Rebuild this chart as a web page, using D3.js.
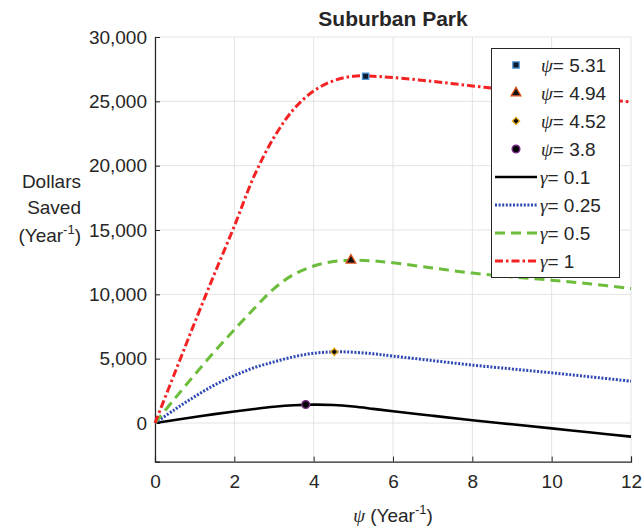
<!DOCTYPE html>
<html>
<head>
<meta charset="utf-8">
<script src="https://cdn.jsdelivr.net/npm/d3@7"></script>
<style>
  body { margin: 0; background: #fff; }
  text { font-family: "Liberation Sans", Arial, sans-serif; fill: #262626; }
  .greek { font-family: "Liberation Serif", "Times New Roman", serif; font-style: italic; }
</style>
</head>
<body>
<svg id="chart" width="644" height="527"></svg>
<script>
// psi sample points (Year^-1)
const psi = [0, 0.5, 1, 1.5, 2, 2.5, 3, 3.5, 4, 4.5, 5, 5.5, 6, 7, 8, 9, 10, 11, 12];

// dollars saved for each gamma
const gamma01 = [0, 230, 460, 690, 900, 1090, 1260, 1380, 1430, 1400, 1280, 1100, 910, 560, 220, -100, -420, -740, -1060];
const gamma025 = [0, 1050, 2050, 2950, 3680, 4300, 4750, 5150, 5420, 5530, 5500, 5380, 5200, 4850, 4500, 4200, 3900, 3580, 3250];
const gamma05 = [0, 1900, 3750, 5550, 7250, 8900, 10450, 11550, 12200, 12550, 12650, 12600, 12450, 12050, 11650, 11350, 11100, 10800, 10450];
const gamma1 = [0, 3900, 7800, 11600, 15300, 19200, 22200, 24400, 25800, 26600, 26950, 26950, 26850, 26550, 26200, 25850, 25550, 25250, 24950];

const gammaLabels = ["0.1", "0.25", "0.5", "1"];

// optimum markers
const markerPsi = [5.31, 4.94, 4.52, 3.8];
const markerVal = [26950, 12650, 5530, 1440];
const markerLabels = ["5.31", "4.94", "4.52", "3.8"];

const xTicks = [0, 2, 4, 6, 8, 10, 12];
const yTicks = [0, 5000, 10000, 15000, 20000, 25000, 30000];

const svg = d3.select("#chart");

const x = d3.scaleLinear().domain([0, 12]).range([155, 631]);
const y = d3.scaleLinear().domain([-3000, 30000]).range([461.6, 37]);

// line styles
let lineStyles = [
  { color: "#000000", width: 2.6, dash: null },
  { color: "#2d47b3", width: 3, dash: "2,1.6" },
  { color: "#6cbd3c", width: 3, dash: "10,6" },
  { color: "#f42222", width: 3, dash: "8,3,2.5,3" },
];
let markerStyles = [
  { shape: d3.symbolSquare, size: 40, fill: "#0b1a2e", stroke: "#4a95d6" },
  { shape: d3.symbolTriangle, size: 42, fill: "#111111", stroke: "#d9531e" },
  { shape: d3.symbolDiamond2, size: 34, fill: "#111111", stroke: "#edb120" },
  { shape: d3.symbolCircle, size: 48, fill: "#000000", stroke: "#7e2f8e" },
];

// grid
svg.append("g")
  .selectAll("line")
  .data(xTicks)
  .enter()
  .append("line")
  .attr("x1", (d) => x(d))
  .attr("x2", (d) => x(d))
  .attr("y1", y(-3000))
  .attr("y2", y(30000))
  .attr("stroke", "#e3e3e3")
  .attr("stroke-width", 1);

svg.append("g")
  .selectAll("line")
  .data(yTicks)
  .enter()
  .append("line")
  .attr("x1", x(0))
  .attr("x2", x(12))
  .attr("y1", (d) => y(d))
  .attr("y2", (d) => y(d))
  .attr("stroke", "#e3e3e3")
  .attr("stroke-width", 1);

// axes
const xAxis = svg.append("g")
  .attr("transform", "translate(0," + y(-3000) + ")")
  .call(d3.axisBottom(x).tickValues(xTicks).tickSize(-5).tickPadding(13).tickFormat(d3.format("d")));

const yAxis = svg.append("g")
  .attr("transform", "translate(" + x(0) + ",0)")
  .call(d3.axisLeft(y).tickValues(yTicks).tickSize(-5).tickPadding(8).tickFormat(d3.format(",")));

[xAxis, yAxis].forEach((a) => {
  a.select(".domain").attr("stroke", "#262626").attr("stroke-width", 1.2);
  a.selectAll(".tick line").attr("stroke", "#262626");
  a.selectAll(".tick text")
    .style("font-family", '"Liberation Sans", Arial, sans-serif')
    .style("font-size", "19px")
    .attr("fill", "#262626");
});

// curves
const series = [gamma01, gamma025, gamma05, gamma1];
const line = d3.line()
  .x((d, i) => x(psi[i]))
  .y((d) => y(d))
  .curve(d3.curveCatmullRom.alpha(0.5));

svg.append("g")
  .selectAll("path")
  .data(series)
  .enter()
  .append("path")
  .attr("d", (d) => line(d))
  .attr("fill", "none")
  .attr("stroke", (d, i) => lineStyles[i].color)
  .attr("stroke-width", (d, i) => lineStyles[i].width)
  .attr("stroke-dasharray", (d, i) => lineStyles[i].dash);

// optimum markers
svg.append("g")
  .selectAll("path")
  .data(markerPsi)
  .enter()
  .append("path")
  .attr("transform", (d, i) => "translate(" + x(d) + "," + y(markerVal[i]) + ")")
  .attr("d", (d, i) => d3.symbol().type(markerStyles[i].shape).size(markerStyles[i].size)())
  .attr("fill", (d, i) => markerStyles[i].fill)
  .attr("stroke", (d, i) => markerStyles[i].stroke)
  .attr("stroke-width", 1.3);

// title
svg.append("text")
  .attr("x", 393)
  .attr("y", 26)
  .attr("text-anchor", "middle")
  .style("font-size", "21px")
  .style("font-weight", "bold")
  .attr("fill", "#000")
  .text("Suburban Park");

// y label
const yl = svg.append("text")
  .attr("text-anchor", "end")
  .style("font-size", "19px");
yl.append("tspan").attr("x", 81).attr("y", 188).text("Dollars");
yl.append("tspan").attr("x", 81).attr("y", 214).text("Saved");
const yl3 = svg.append("text").attr("text-anchor", "end").attr("x", 81).attr("y", 242).style("font-size", "19px");
yl3.append("tspan").text("(Year");
yl3.append("tspan").attr("dy", -8).style("font-size", "13px").text("-1");
yl3.append("tspan").attr("dy", 8).text(")");

// x label
const xl = svg.append("text")
  .attr("x", 393)
  .attr("y", 522)
  .attr("text-anchor", "middle")
  .style("font-size", "19px");
xl.append("tspan").attr("class", "greek").text("\u03c8");
xl.append("tspan").text(" (Year");
xl.append("tspan").attr("dy", -8).style("font-size", "13px").text("-1");
xl.append("tspan").attr("dy", 8).text(")");

// legend
const legend = svg.append("g");
legend.append("rect")
  .attr("x", 491.5)
  .attr("y", 48.5)
  .attr("width", 128)
  .attr("height", 229)
  .attr("fill", "#fff")
  .attr("stroke", "#262626")
  .attr("stroke-width", 1);

const rowY = (i) => 65 + i * 28;

markerLabels.forEach((lab, i) => {
  legend.append("path")
    .attr("transform", "translate(516," + rowY(i) + ")")
    .attr("d", d3.symbol().type(markerStyles[i].shape).size(markerStyles[i].size)())
    .attr("fill", markerStyles[i].fill)
    .attr("stroke", markerStyles[i].stroke)
    .attr("stroke-width", 1.3);
  const t = legend.append("text")
    .attr("x", 541)
    .attr("y", rowY(i) + 7)
    .style("font-size", "19px");
  t.append("tspan").attr("class", "greek").text("\u03c8");
  t.append("tspan").text("= " + lab);
});

gammaLabels.forEach((lab, j) => {
  const i = j + 4;
  legend.append("line")
    .attr("x1", 495)
    .attr("x2", 537)
    .attr("y1", rowY(i))
    .attr("y2", rowY(i))
    .attr("stroke", lineStyles[j].color)
    .attr("stroke-width", lineStyles[j].width)
    .attr("stroke-dasharray", lineStyles[j].dash);
  const t = legend.append("text")
    .attr("x", 540)
    .attr("y", rowY(i) + 7)
    .style("font-size", "19px");
  t.append("tspan").attr("class", "greek").text("\u03b3");
  t.append("tspan").text("= " + lab);
});
</script>
</body>
</html>
